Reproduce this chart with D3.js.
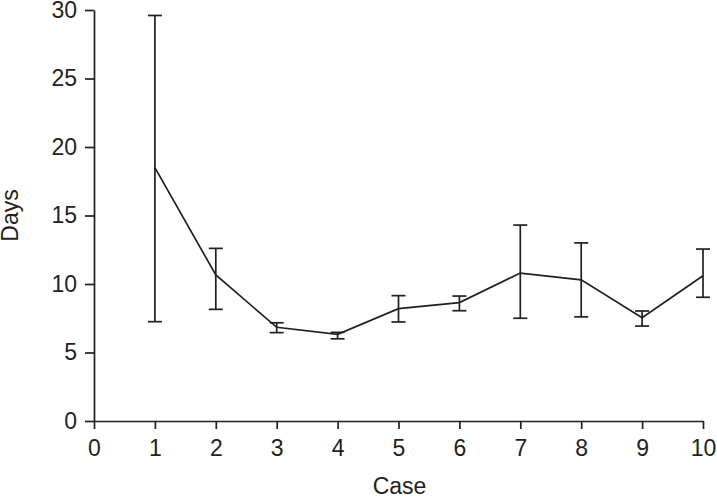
<!DOCTYPE html>
<html><head><meta charset="utf-8">
<script src="https://cdn.jsdelivr.net/npm/d3@7"></script>
<style>body{margin:0;background:#fff}svg{display:block}text{font-family:"Liberation Sans",Arial,sans-serif;fill:#231f20}</style>
</head><body>
<script>
const cases = [1,2,3,4,5,6,7,8,9,10];
const means = [18.5,10.66,6.84,6.33,8.2,8.64,10.8,10.3,7.54,10.6];
const upper = [29.6,12.6,7.17,6.47,9.15,9.12,14.3,13.0,8.03,12.55];
const lower = [7.25,8.15,6.45,6.0,7.23,8.05,7.5,7.6,6.93,9.03];
const xTicks = [0,1,2,3,4,5,6,7,8,9,10];
const yTicks = [0,5,10,15,20,25,30];

const W=717,H=497;
const m={left:94,right:14,top:10,bottom:76};
const svg=d3.select("body").append("svg").attr("width",W).attr("height",H);
const x=d3.scaleLinear().domain([0,10]).range([m.left,W-m.right]);
const y=d3.scaleLinear().domain([0,30]).range([H-m.bottom,m.top]);
const col="#231f20";

const data=cases.map((c,i)=>({c,m:means[i],u:upper[i],l:lower[i]}));

const xa=svg.append("g").attr("transform",`translate(0,${y(0)})`)
  .call(d3.axisBottom(x).tickValues(xTicks).tickSize(8).tickPadding(11).tickSizeOuter(0));
const ya=svg.append("g").attr("transform",`translate(${x(0)},0)`)
  .call(d3.axisLeft(y).tickValues(yTicks).tickSize(9).tickPadding(8).tickSizeOuter(0));
[xa,ya].forEach(a=>{
  a.selectAll("path,line").attr("stroke",col).attr("stroke-width",1.7);
  a.selectAll("text").attr("font-size",23).attr("fill",col).style("font-family","Liberation Sans, Arial, sans-serif");
});

const g=svg.append("g").attr("stroke",col).attr("stroke-width",1.7).attr("fill","none");
data.forEach(d=>{
  g.append("line").attr("x1",x(d.c)).attr("x2",x(d.c)).attr("y1",y(d.l)).attr("y2",y(d.u));
  g.append("line").attr("x1",x(d.c)-7).attr("x2",x(d.c)+7).attr("y1",y(d.u)).attr("y2",y(d.u));
  g.append("line").attr("x1",x(d.c)-7).attr("x2",x(d.c)+7).attr("y1",y(d.l)).attr("y2",y(d.l));
});
g.append("path").datum(data).attr("d",d3.line().x(d=>x(d.c)).y(d=>y(d.m)));

svg.append("text").attr("x",(x(0)+x(10))/2+1).attr("y",494).attr("text-anchor","middle").attr("font-size",23).text("Case");
svg.append("text").attr("transform",`translate(18,${(y(0)+y(30))/2}) rotate(-90)`).attr("text-anchor","middle").attr("font-size",23).text("Days");
</script>
</body></html>
